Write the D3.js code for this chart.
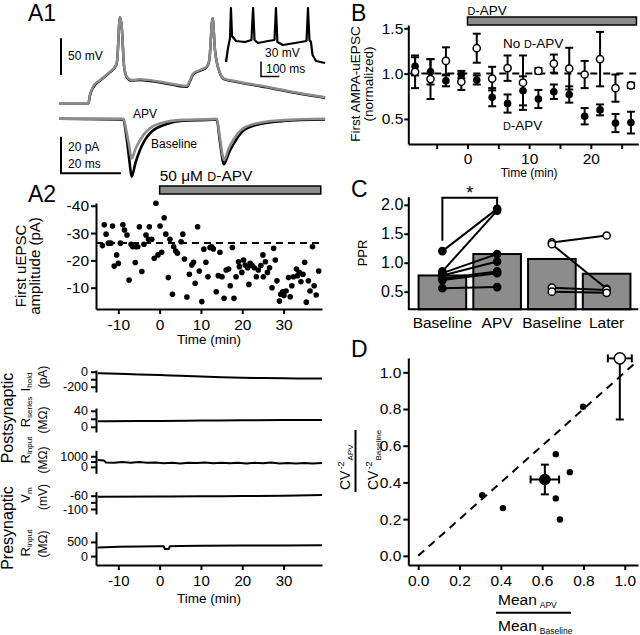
<!DOCTYPE html>
<html lang="en">
<head>
<meta charset="utf-8">
<script src="https://cdn.jsdelivr.net/npm/d3@7"></script>
<title>uEPSC and D-APV</title>
<style>
  body { margin: 0; background: #fff; }
  svg { display: block; }
</style>
</head>
<body>
<svg width="640" height="635" id="fig"></svg>
<script>
const FONT = '"Liberation Sans", Arial, Helvetica, sans-serif'
const GREY = "#8c8c8c"

// ---- A1: paired presynaptic spikes (ms, mV) ----
const spikeTime = [0, 9.8, 10.3, 11.4, 13.7, 17, 19, 19.4, 20.3, 20.9, 21.7, 22.6, 24.2, 27, 33.7, 42.6, 43.7, 44.8, 47, 49.2, 50.1, 51.2, 52, 53.7, 54.8, 58.1, 69.2, 80.3, 88.7]
const spikeApv = [-70, -70, -58.7, -47.4, -38.2, -26.9, -17.7, -10.9, 47.3, 34.5, -20, -33.7, -38.2, -37.3, -40.5, -46.4, -38.2, -29.1, -24.6, -20, -10.9, 46, 2.6, -29.1, -35.9, -39.2, -47.4, -56.4, -61.8]
const spikeBaseline = [-70, -70, -59.5, -48.2, -39, -27.6, -18.4, -11.5, 47.3, 34.5, -20, -34.4, -39, -38.2, -41.5, -47.6, -39.4, -30.2, -25.6, -20.8, -11.5, 46, 2.6, -29.6, -36.6, -40, -48.1, -57, -62.3]
// ---- A1: postsynaptic uEPSCs (ms, pA) ----
const epscTime = [0, 21.4, 22.5, 23.4, 24.2, 25.5, 27, 30.3, 35.9, 41.4, 51.4, 52.6, 53.6, 55, 56.5, 58.1, 61.4, 67, 74.8, 88.7]
const epscApv = [0, 0, -7, -15, -21.6, -16.5, -11.6, -5.2, -1.6, -0.6, -0.2, 0, -10, -22.5, -16.5, -11.6, -5.2, -2.1, -0.7, 0]
const epscBaseline = [0, -0.3, -10, -22, -31.6, -24, -17, -7.9, -2.8, -1, -0.5, -0.4, -12, -24.8, -19, -14, -6.5, -2.8, -1.2, -0.4]
// ---- A1 inset: spike train (ms, mV) ----
const insetTime = [0, 11, 22, 27, 33, 55, 104, 139, 148, 156, 175, 230, 265, 273, 281, 311, 377, 440, 448, 456, 464, 473, 492, 541]
const insetVm = [-70, -42, -22, 38, -18, -28, -30, -26, 38, -26, -32, -28, -26, 38, -30, -36, -32, -28, 38, -26, -30, -56, -68, -72]

// ---- A2: first uEPSC amplitude over time ----
const a2Time = [-13.85, -13.4, -12.95, -12.4, -11.8, -11.4, -11.0, -10.4, -10.0, -9.5, -8.9, -8.5, -7.9, -7.4, -6.9, -6.5, -5.9, -5.8, -5.3, -4.9, -4.3, -3.8, -3.3, -2.7, -2.5, -1.9, -1.3, -0.9, -0.4, 0.1, 0.5, 1.1, 1.5, 2.1, 2.5, 3.1, 3.4, 3.9, 4.3, 5.2, 5.6, 6.0, 6.6, 7.2, 7.8, 8.2, 8.6, 9.2, 9.6, 10.2, 10.7, 11.2, 11.7, 12.2,
  12.6, 13.0, 13.7, 14.2, 14.6, 15.1, 15.6, 16.1, 16.7, 17.1, 17.6, 18.0, 18.5, 19.1, 19.3, 19.9, 20.3, 20.7, 21.3, 21.6, 21.9, 22.4, 22.9, 23.4, 23.9, 24.5, 25.0, 25.1, 25.6, 26.1, 26.6, 27.2, 27.6, 28.0, 28.4, 29.0, 29.3, 29.8, 30.1, 30.6, 31.2, 31.6, 32.0, 32.4, 33.1, 33.4, 33.8, 34.2, 34.7, 35.1, 35.5, 36.0, 36.4, 37.0, 37.4, 37.9, 38.5]
const a2Amp = [-25.4, -33.0, -29.6, -26.3, -26.3, -32.6, -17.9, -22.0, -18.9, -26.3, -33.0, -31.1, -29.3, -12.8, -25.9, -25.0, -19.2, -25.0, -25.0, -32.3, -15.9, -25.9, -29.3, -27.7, -32.3, -27.7, -20.8, -40.9, -22.0, -32.6, -23.0, -35.6, -29.6, -13.7, -27.7, -7.6, -25.0, -23.4, -22.6, -26.8, -29.6, -20.5, -6.6, -14.9, -18.3, -19.3, -11.6, -32.3, -16.1, -4.9, -24.1, -19.3, -14.0, -24.7,
  -25.0, -24.2, -8.5, -14.4, -23.0, -14.0, -6.1, -16.5, -16.8, -10.7, -24.7, -6.1, -14.0, -19.5, -17.7, -15.6, -20.1, -18.3, -17.3, -11.2, -18.9, -18.1, -17.3, -14.0, -16.5, -18.1, -22.0, -14.0, -19.5, -15.6, -17.3, -10.0, -24.4, -20.1, -12.5, -5.1, -7.6, -8.5, -7.1, -8.8, -13.7, -6.7, -10.7, -14.0, -16.8, -14.4, -15.6, -12.2, -14.9, -19.3, -4.7, -12.5, -8.8, -25.0, -10.7, -7.3, -16.1]
const a2BaselineMean = -26.4
const a2Drug = [0, 39]
const a2XTicks = [-10, 0, 10, 20, 30]
const a2YTicks = [-40, -30, -20, -10]

// ---- A2 lower: recording parameters over time ----
const holdTime = [-15, -10, -5, 0, 5, 10, 15, 20, 25, 30, 35, 39.3]
const holdVal = [-20, -28, -36, -45, -55, -64, -72, -80, -85, -88, -89, -90]
const seriesTime = [-15, -5, 0, 10, 20, 30, 39.3]
const seriesVal = [14, 14.3, 14.5, 15.5, 16.5, 17, 17]
const rinPostTime = [-15, -13.5, -13, -11, -9, -7, -5, -3, -1, 1, 3, 5, 7, 9, 11, 13, 15, 17, 19, 21, 23, 25, 27, 29, 31, 33, 35, 37, 39.3]
const rinPostVal = [650, 600, 420, 380, 450, 400, 460, 380, 420, 350, 400, 330, 390, 360, 420, 350, 400, 340, 390, 330, 380, 350, 410, 330, 370, 320, 360, 330, 370]
const vmTime = [-15, 0, 10, 20, 30, 39.3]
const vmVal = [-63, -62.5, -62, -61, -60, -58]
const rinPreTime = [-15, -13, -10, -5, 0, 1, 1.3, 2.2, 2.5, 5, 10, 20, 30, 39.3]
const rinPreVal = [300, 310, 330, 340, 345, 345, 250, 250, 350, 355, 360, 370, 375, 380]

// ---- B: normalized first AMPA-uEPSC ----
const bTime = [-8.5, -6, -3.5, -1, 1.5, 4, 6.5, 9, 11.5, 14, 16.5, 19, 21.5, 24, 26.5]
const apvMean = [1.08, 1.02, 0.92, 0.99, 0.93, 0.74, 0.67, 0.81, 0.72, 0.80, 0.77, 0.53, 0.60, 0.455, 0.46]
const apvSem = [0.10, 0.14, 0.06, 0.04, 0.05, 0.10, 0.10, 0.16, 0.10, 0.08, 0.09, 0.09, 0.06, 0.10, 0.12]
const noApvMean = [1.02, 0.94, 1.14, 0.91, 1.28, 0.945, 1.06, 0.90, 1.03, 1.11, 1.055, 0.99, 1.16, 0.84, 0.87]
const noApvSem = [0.18, 0.22, 0.15, 0.09, 0.16, 0.13, 0.14, 0.30, 0.03, 0.10, 0.23, 0.15, 0.30, 0.15, 0.03]
const bDrug = [0, 27.4]
const bXTicks = [-5, 0, 5, 10, 15, 20, 25]
const bYTicks = [0.5, 1.0, 1.5]

// ---- C: paired-pulse ratio ----
const pprCats = ["Baseline", "APV", "Baseline", "Later"]
const pprMeans = [0.78, 1.15, 1.065, 0.81]
const apvPre = [1.20, 0.85, 0.82, 0.78, 0.73, 0.70, 0.56]
const apvPost = [1.93, 1.90, 1.15, 1.02, 0.85, 0.82, 0.58]
const laterPre = [1.35, 1.32, 0.57, 0.50]
const laterPost = [1.47, 0.55, 0.53, 0.48]
const cYTicks = [0.5, 1.0, 1.5, 2.0]

// ---- D: CV analysis ----
const cvMeanRatio = [0.31, 0.41, 0.666, 0.666, 0.686, 0.734, 0.798]
const cvRatio = [0.33, 0.26, 0.554, 0.313, 0.198, 0.456, 0.812]
const apvAvg = [0.613, 0.416, 0.069, 0.081]      // x, y, xErr, yErr
const controlAvg = [0.976, 1.076, 0.058, 0.333]  // x, y, xErr, yErr
const unity = [0, 1.05]
const dTicks = [0, 0.2, 0.4, 0.6, 0.8, 1.0]

const svg = d3.select("#fig").attr("font-family", FONT)

// ---------- helpers ----------
function trace(xs, ys, sx, sy, color, width, curve) {
  svg.append("path")
    .attr("d", d3.line()
      .x(function(d, i) { return sx(d) })
      .y(function(d, i) { return sy(ys[i]) })
      .curve(curve || d3.curveMonotoneX)(xs))
    .attr("fill", "none")
    .attr("stroke", color)
    .attr("stroke-width", width)
    .attr("stroke-linejoin", "round")
}

function axis(ax, tx, ty, size) {
  const g = svg.append("g").attr("transform", `translate(${tx},${ty})`).call(ax)
    .attr("font-family", FONT).attr("font-size", size)
  g.select(".domain").attr("stroke-width", 2)
  g.selectAll(".tick line").attr("stroke-width", 2)
  g.selectAll(".tick text").attr("fill", "#000")
  return g
}

function vtext(x, y, size, anchor) {
  return svg.append("text")
    .attr("transform", `translate(${x},${y}) rotate(-90)`)
    .attr("text-anchor", anchor || "middle")
    .attr("font-size", size)
}

function label(x, y, size, txt, anchor) {
  return svg.append("text").attr("x", x).attr("y", y).attr("font-size", size)
    .attr("text-anchor", anchor || "start").text(txt)
}

// "D-APV" with small-caps D
function dapv(t, size) {
  t.append("tspan").attr("font-size", size * 0.8).text("D")
  t.append("tspan").attr("font-size", size).text("-APV")
}

function errBar(x0, y0, x1, y1, cap, horizontal) {
  svg.append("line").attr("x1", x0).attr("y1", y0).attr("x2", x1).attr("y2", y1)
    .attr("stroke", "#000").attr("stroke-width", 2)
  const ends = [[x0, y0], [x1, y1]]
  ends.forEach(function(e) {
    if (horizontal) {
      svg.append("line").attr("x1", e[0]).attr("x2", e[0]).attr("y1", e[1] - cap / 2).attr("y2", e[1] + cap / 2)
        .attr("stroke", "#000").attr("stroke-width", 2)
    } else {
      svg.append("line").attr("x1", e[0] - cap / 2).attr("x2", e[0] + cap / 2).attr("y1", e[1]).attr("y2", e[1])
        .attr("stroke", "#000").attr("stroke-width", 2)
    }
  })
}

// ---------- panel letters ----------
label(28, 21, 23, "A1")
label(28, 202, 23, "A2")
label(351, 21, 23, "B")
label(351, 197, 23, "C")
label(351, 357, 23, "D")

// ---------- A1 ----------
const a1X = d3.scaleLinear().domain([0, 88.7]).range([59, 325.1])
const a1V = d3.scaleLinear().domain([-70, 50]).range([103.3, 15.3])
const a1I = d3.scaleLinear().domain([0, -32]).range([118.8, 177.4])

trace(spikeTime, spikeBaseline, a1X, a1V, "#000", 2.5)
trace(spikeTime, spikeApv, a1X, a1V, GREY, 2.5)
trace(epscTime, epscBaseline, a1X, a1I, "#000", 2.6)
trace(epscTime, epscApv, a1X, a1I, GREY, 2.6)

// inset spike train
const inX = d3.scaleLinear().domain([0, 541]).range([226, 325])
const inV = d3.scaleLinear().domain([-72, 38]).range([63, 8])
trace(insetTime, insetVm, inX, inV, "#000", 2.2, d3.curveLinear)

// scale bars
const bar50 = a1V(0) - a1V(50)
svg.append("line").attr("x1", 61).attr("x2", 61).attr("y1", 38.3).attr("y2", 38.3 + bar50)
  .attr("stroke", "#000").attr("stroke-width", 2)
label(68, 60, 12, "50 mV")

const bar20pA = a1I(-20) - a1I(0)
const bar20ms = a1X(20) - a1X(0)
svg.append("path")
  .attr("d", `M61,${173.3 - bar20pA}V173.3H${61 + bar20ms}`)
  .attr("fill", "none").attr("stroke", "#000").attr("stroke-width", 2)
label(68, 151, 12, "20 pA")
label(68, 168, 12, "20 ms")
label(133, 118, 12, "APV")
label(151, 148, 12, "Baseline")

const bar30mV = inV(0) - inV(30)
const bar100ms = inX(100) - inX(0)
svg.append("path")
  .attr("d", `M261,${76.5 - bar30mV}V76.5H${261 + bar100ms}`)
  .attr("fill", "none").attr("stroke", "#000").attr("stroke-width", 1.5)
label(265, 57, 12, "30 mV")
label(266, 73, 12, "100 ms")

// ---------- A2 scatter ----------
const a2X = d3.scaleLinear().domain([-15.4, 39.3]).range([96, 322])
const a2Y = d3.scaleLinear().domain([-2.2, -41]).range([309, 203])

// drug bar
const a2Lab = svg.append("text").attr("x", a2X(a2Drug[0])).attr("y", 181)
a2Lab.append("tspan").attr("font-size", 15.5).text("50 \u03bcM ")
dapv(a2Lab, 15.5)
svg.append("rect").attr("x", a2X(a2Drug[0])).attr("y", 186)
  .attr("width", a2X(a2Drug[1]) - a2X(a2Drug[0])).attr("height", 8)
  .attr("fill", GREY).attr("stroke", "#000").attr("stroke-width", 1.5)

svg.append("line")
  .attr("x1", a2X.range()[0]).attr("x2", a2X.range()[1])
  .attr("y1", a2Y(a2BaselineMean)).attr("y2", a2Y(a2BaselineMean))
  .attr("stroke", "#000").attr("stroke-width", 2).attr("stroke-dasharray", "7,5")

svg.append("g").selectAll("circle")
  .data(a2Time)
  .enter()
  .append("circle")
  .attr("cx", function(d) { return a2X(d) })
  .attr("cy", function(d, i) { return a2Y(a2Amp[i]) })
  .attr("r", 2.8)
  .attr("fill", "#000")

axis(d3.axisLeft(a2Y).tickValues(a2YTicks).tickSize(5).tickSizeOuter(0).tickPadding(2)
  .tickFormat(function(d) { return String(d) }), a2X.range()[0], 0, 15.5)
axis(d3.axisBottom(a2X).tickValues(a2XTicks).tickSize(5).tickSizeOuter(0).tickPadding(5)
  .tickFormat(function(d) { return String(d) }), 0, a2Y.range()[0], 15.5)
label(209, 344, 13.5, "Time (min)", "middle")
vtext(26, 266, 15).text("First uEPSC")
vtext(40, 266, 15).text("amplitude (pA)")

// ---------- A2 lower: stacked parameter traces ----------
const lowX = a2X
const lowPanels = [
  { t: holdTime, v: holdVal, dom: [-270, 23], rng: [392, 370], ticks: [0, -100, -200], labels: [0, -200], curve: d3.curveMonotoneX },
  { t: seriesTime, v: seriesVal, dom: [-13, 47], rng: [432, 408], ticks: [0, 20, 40], labels: [0, 40], curve: d3.curveMonotoneX },
  { t: rinPostTime, v: rinPostVal, dom: [-600, 1560], rng: [473.3, 450.3], ticks: [0, 500, 1000], labels: [0, 1000], curve: d3.curveLinear },
  { t: vmTime, v: vmVal, dom: [-115, -48], rng: [514, 491.7], ticks: [-60, -80, -100], labels: [-60, -100], curve: d3.curveMonotoneX },
  { t: rinPreTime, v: rinPreVal, dom: [-315, 860], rng: [565, 531.7], ticks: [0, 500], labels: [0, 500], curve: d3.curveLinear }
]
lowPanels.forEach(function(p) {
  const sy = d3.scaleLinear().domain(p.dom).range(p.rng)
  trace(p.t, p.v, lowX, sy, "#000", 2, p.curve)
  axis(d3.axisLeft(sy).tickValues(p.ticks).tickSize(5).tickSizeOuter(0).tickPadding(3)
    .tickFormat(function(d) { return p.labels.indexOf(d) >= 0 ? String(d) : "" }),
    lowX.range()[0], 0, 12.5)
})
axis(d3.axisBottom(lowX).tickValues(a2XTicks).tickSize(5).tickSizeOuter(0).tickPadding(5)
  .tickFormat(function(d) { return String(d) }), 0, 565, 15)
label(209, 603, 13.5, "Time (min)", "middle")

vtext(13, 418, 16).text("Postsynaptic")
vtext(13, 528, 16).text("Presynaptic")
const subLabels = [
  { main: "I", sub: "hold", unit: "(pA)", y: 382, uy: 377 },
  { main: "R", sub: "series", unit: "(M\u03a9)", y: 412, uy: 420 },
  { main: "R", sub: "input", unit: "(M\u03a9)", y: 450, uy: 460 },
  { main: "V", sub: "m", unit: "(mV)", y: 495, uy: 497 },
  { main: "R", sub: "input", unit: "(M\u03a9)", y: 543, uy: 544 }
]
subLabels.forEach(function(s) {
  const t = vtext(30, s.y, 13)
  t.append("tspan").text(s.main)
  t.append("tspan").attr("font-size", 8).attr("dy", 2).text(s.sub)
  vtext(47, s.uy, 12).text(s.unit)
})

// ---------- B ----------
const bX = d3.scaleLinear().domain([-9.6, 27.7]).range([408.3, 638.3])
const bY = d3.scaleLinear().domain([0.224, 1.536]).range([144, 25])

const bLab = svg.append("text").attr("x", bX(bDrug[0])).attr("y", 15)
dapv(bLab, 13.5)
svg.append("rect").attr("x", bX(bDrug[0])).attr("y", 17)
  .attr("width", bX(bDrug[1]) - bX(bDrug[0])).attr("height", 8)
  .attr("fill", GREY).attr("stroke", "#000").attr("stroke-width", 1.5)

svg.append("line")
  .attr("x1", bX.range()[0]).attr("x2", bX(bDrug[1]))
  .attr("y1", bY(1)).attr("y2", bY(1))
  .attr("stroke", "#000").attr("stroke-width", 2).attr("stroke-dasharray", "7,6")

bTime.forEach(function(t, i) {
  errBar(bX(t), bY(apvMean[i] - apvSem[i]), bX(t), bY(apvMean[i] + apvSem[i]), 8)
  errBar(bX(t), bY(noApvMean[i] - noApvSem[i]), bX(t), bY(noApvMean[i] + noApvSem[i]), 8)
})
svg.append("g").selectAll("circle")
  .data(bTime)
  .enter()
  .append("circle")
  .attr("cx", function(d) { return bX(d) })
  .attr("cy", function(d, i) { return bY(apvMean[i]) })
  .attr("r", 3.8)
  .attr("fill", "#000")
svg.append("g").selectAll("circle")
  .data(bTime)
  .enter()
  .append("circle")
  .attr("cx", function(d) { return bX(d) })
  .attr("cy", function(d, i) { return bY(noApvMean[i]) })
  .attr("r", 3.6)
  .attr("fill", "#fff").attr("stroke", "#000").attr("stroke-width", 1.5)

axis(d3.axisLeft(bY).tickValues(bYTicks).tickSize(4).tickSizeOuter(0).tickPadding(1)
  .tickFormat(d3.format(".1f")), bX.range()[0], 0, 15.5)
axis(d3.axisBottom(bX).tickValues(bXTicks).tickSize(5).tickSizeOuter(0).tickPadding(4)
  .tickFormat(function(d) { return d % 10 === 0 ? String(d) : "" }), 0, bY.range()[0], 15.5)
label(bX(10), 177, 12, "Time (min)", "middle")
vtext(360, 84, 13.5).text("First AMPA-uEPSC")
vtext(373, 84, 13.5).text("(normalized)")

const noLab = svg.append("text").attr("x", 503).attr("y", 48)
noLab.append("tspan").attr("font-size", 13.5).text("No ")
dapv(noLab, 13.5)
const dLab = svg.append("text").attr("x", 503).attr("y", 130)
dapv(dLab, 13.5)

// ---------- C ----------
const cX = d3.scaleBand().domain(d3.range(pprCats.length)).range([415, 634])
  .paddingInner(0.13).paddingOuter(0.065)
const cY = d3.scaleLinear().domain([0.196, 2.14]).range([309.3, 196.7])

svg.append("g").selectAll("rect")
  .data(pprMeans)
  .enter()
  .append("rect")
  .attr("x", function(d, i) { return cX(i) })
  .attr("y", function(d) { return cY(d) })
  .attr("width", cX.bandwidth())
  .attr("height", function(d) { return cY.range()[0] - cY(d) })
  .attr("fill", GREY).attr("stroke", "#000").attr("stroke-width", 2)

const cMid = function(i) { return cX(i) + cX.bandwidth() / 2 }

// significance bracket
svg.append("path")
  .attr("d", `M${cMid(0)},${cY(1.38)}V${cY(2.12)}H${cMid(1)}V${cY(1.98)}`)
  .attr("fill", "none").attr("stroke", "#000").attr("stroke-width", 2)
label((cMid(0) + cMid(1)) / 2, 199, 18, "*", "middle")

apvPre.forEach(function(v, i) {
  svg.append("line").attr("x1", cMid(0)).attr("y1", cY(v)).attr("x2", cMid(1)).attr("y2", cY(apvPost[i]))
    .attr("stroke", "#000").attr("stroke-width", 2)
})
laterPre.forEach(function(v, i) {
  svg.append("line").attr("x1", cMid(2)).attr("y1", cY(v)).attr("x2", cMid(3)).attr("y2", cY(laterPost[i]))
    .attr("stroke", "#000").attr("stroke-width", 2)
})
function cDots(vals, idx, open) {
  svg.append("g").selectAll("circle")
    .data(vals)
    .enter()
    .append("circle")
    .attr("cx", cMid(idx))
    .attr("cy", function(d) { return cY(d) })
    .attr("r", 3.6)
    .attr("fill", open ? "#fff" : "#000")
    .attr("stroke", "#000").attr("stroke-width", 1.5)
}
cDots(apvPre, 0, false)
cDots(apvPost, 1, false)
cDots(laterPre, 2, true)
cDots(laterPost, 3, true)

axis(d3.axisLeft(cY).tickValues(cYTicks).tickSize(4).tickSizeOuter(0).tickPadding(1)
  .tickFormat(d3.format(".1f")), cX.range()[0] - 6.7, 0, 16)
svg.append("line").attr("x1", 408.3).attr("x2", 638.3).attr("y1", cY.range()[0]).attr("y2", cY.range()[0])
  .attr("stroke", "#000").attr("stroke-width", 2)
pprCats.forEach(function(c, i) { label(cMid(i), 327.5, 15.5, c, "middle") })
vtext(367, 253, 13).text("PPR")

// ---------- D ----------
const dX = d3.scaleLinear().domain([-0.048, 1.064]).range([408.3, 638])
const dY = d3.scaleLinear().domain([-0.05, 1.078]).range([565, 358])

svg.append("line")
  .attr("x1", dX(unity[0])).attr("y1", dY(unity[0]))
  .attr("x2", dX(unity[1])).attr("y2", dY(unity[1]))
  .attr("stroke", "#000").attr("stroke-width", 2).attr("stroke-dasharray", "8,6")

svg.append("g").selectAll("circle")
  .data(cvMeanRatio)
  .enter()
  .append("circle")
  .attr("cx", function(d) { return dX(d) })
  .attr("cy", function(d, i) { return dY(cvRatio[i]) })
  .attr("r", 3.2)
  .attr("fill", "#000")

// group averages with error bars
const yTop = dY.domain()[1]
errBar(dX(apvAvg[0] - apvAvg[2]), dY(apvAvg[1]), dX(apvAvg[0] + apvAvg[2]), dY(apvAvg[1]), 8, true)
errBar(dX(apvAvg[0]), dY(apvAvg[1] - apvAvg[3]), dX(apvAvg[0]), dY(apvAvg[1] + apvAvg[3]), 8)
svg.append("circle").attr("cx", dX(apvAvg[0])).attr("cy", dY(apvAvg[1])).attr("r", 5.8).attr("fill", "#000")

errBar(dX(controlAvg[0] - controlAvg[2]), dY(controlAvg[1]), dX(controlAvg[0] + controlAvg[2]), dY(controlAvg[1]), 8, true)
svg.append("line").attr("x1", dX(controlAvg[0])).attr("x2", dX(controlAvg[0]))
  .attr("y1", dY(controlAvg[1])).attr("y2", dY(controlAvg[1] - controlAvg[3]))
  .attr("stroke", "#000").attr("stroke-width", 2)
svg.append("line").attr("x1", dX(controlAvg[0]) - 4).attr("x2", dX(controlAvg[0]) + 4)
  .attr("y1", dY(controlAvg[1] - controlAvg[3])).attr("y2", dY(controlAvg[1] - controlAvg[3]))
  .attr("stroke", "#000").attr("stroke-width", 2)
svg.append("circle").attr("cx", dX(controlAvg[0])).attr("cy", dY(Math.min(controlAvg[1], yTop)))
  .attr("r", 5.6).attr("fill", "#fff").attr("stroke", "#000").attr("stroke-width", 1.5)

axis(d3.axisLeft(dY).tickValues(dTicks).tickSize(5).tickSizeOuter(0).tickPadding(2)
  .tickFormat(d3.format(".1f")), dX.range()[0], 0, 15.5)
axis(d3.axisBottom(dX).tickValues(dTicks).tickSize(5).tickSizeOuter(0).tickPadding(5)
  .tickFormat(d3.format(".1f")), 0, dY.range()[0], 15.5)

// y label: CV^-2 APV / CV^-2 Baseline
function cvLabel(x, sub) {
  const t = vtext(x, 490, 14, "start")
  t.append("tspan").text("CV")
  t.append("tspan").attr("font-size", 9).attr("dy", -6).attr("dx", 1).text("-2")
  t.append("tspan").attr("font-size", 8).attr("dy", 9).attr("dx", 1).text(sub)
}
cvLabel(350, "APV")
svg.append("line").attr("x1", 355.5).attr("x2", 355.5).attr("y1", 430).attr("y2", 492)
  .attr("stroke", "#000").attr("stroke-width", 2)
cvLabel(378, "Baseline")

// x label: Mean APV / Mean Baseline
function meanLabel(y, sub) {
  const t = svg.append("text").attr("x", 498).attr("y", y).attr("font-size", 15.5)
  t.append("tspan").text("Mean")
  t.append("tspan").attr("font-size", 8.5).attr("dy", 3).attr("dx", 3).text(sub)
}
meanLabel(605, "APV")
svg.append("line").attr("x1", 496).attr("x2", 571).attr("y1", 612.7).attr("y2", 612.7)
  .attr("stroke", "#000").attr("stroke-width", 2)
meanLabel(631, "Baseline")
</script>
</body>
</html>
